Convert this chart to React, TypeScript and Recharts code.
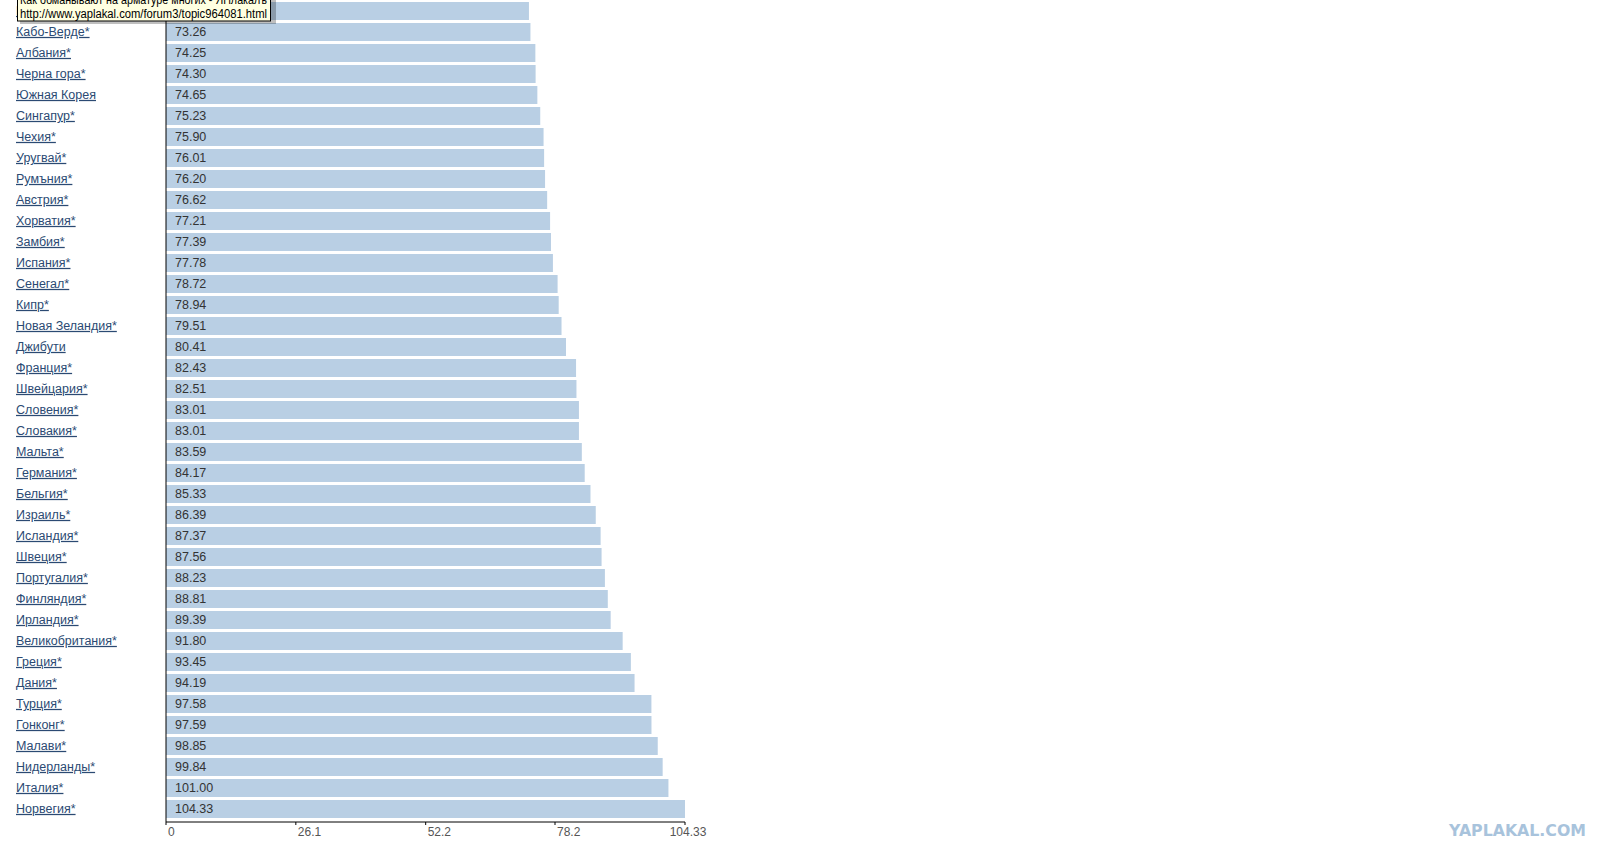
import { BarChart, Bar, XAxis, YAxis, LabelList } from 'recharts';

// row 0 is covered by the browser tooltip in the screenshot
const countries = [
  'Бразилия*', 'Кабо-Верде*', 'Албания*', 'Черна гора*', 'Южная Корея', 'Сингапур*',
  'Чехия*', 'Уругвай*', 'Румъния*', 'Австрия*', 'Хорватия*', 'Замбия*', 'Испания*',
  'Сенегал*', 'Кипр*', 'Новая Зеландия*', 'Джибути', 'Франция*', 'Швейцария*',
  'Словения*', 'Словакия*', 'Мальта*', 'Германия*', 'Бельгия*', 'Израиль*',
  'Исландия*', 'Швеция*', 'Португалия*', 'Финляндия*', 'Ирландия*',
  'Великобритания*', 'Греция*', 'Дания*', 'Турция*', 'Гонконг*', 'Малави*',
  'Нидерланды*', 'Италия*', 'Норвегия*',
];

const values = [
  72.96, 73.26, 74.25, 74.3, 74.65, 75.23,
  75.9, 76.01, 76.2, 76.62, 77.21, 77.39, 77.78,
  78.72, 78.94, 79.51, 80.41, 82.43, 82.51,
  83.01, 83.01, 83.59, 84.17, 85.33, 86.39,
  87.37, 87.56, 88.23, 88.81, 89.39,
  91.8, 93.45, 94.19, 97.58, 97.59, 98.85,
  99.84, 101.0, 104.33,
];

const xTicks = [0, 26.1, 52.2, 78.2, 104.33];
const xMax = 104.33;

const tooltipLines = [
  'Как обманывают на арматуре многих - ЯПлакалъ',
  'http://www.yaplakal.com/forum3/topic964081.html',
];

const data = countries.map((name, i) => ({ name, value: values[i] }));

const FONT = '"Liberation Sans", Arial, sans-serif';

function CountryTick({ y, payload }: any) {
  return (
    <text
      x={16}
      y={y}
      dy="0.35em"
      fill="#2b4a73"
      fontSize={12.5}
      fontFamily={FONT}
      textAnchor="start"
      style={{ textDecoration: 'underline' }}
    >
      {payload.value}
    </text>
  );
}

function ValueTick({ x, payload, index }: any) {
  const last = index === xTicks.length - 1;
  return (
    <text
      x={last ? x + 3 : x + 2}
      y={836}
      fill="#555"
      fontSize={12}
      fontFamily={FONT}
      textAnchor={last ? 'middle' : 'start'}
    >
      {payload.value}
    </text>
  );
}

function ValueLabel({ x, y, height, value }: any) {
  return (
    <text x={x + 9} y={y + height / 2} dy="0.35em" fill="#333" fontSize={12.5} fontFamily={FONT}>
      {Number(value).toFixed(2)}
    </text>
  );
}

export default function App() {
  return (
    <div style={{ position: 'absolute', left: 0, top: 0, width: 1612, height: 860, background: '#fff', overflow: 'hidden' }}>
      <BarChart
        width={1612}
        height={860}
        data={data}
        layout="vertical"
        margin={{ top: 0, right: 927, bottom: 0, left: 0 }}
      >
        <XAxis
          type="number"
          domain={[0, xMax]}
          ticks={xTicks}
          interval={0}
          height={38}
          axisLine={{ stroke: '#000' }}
          tickLine={{ stroke: '#000' }}
          tickSize={3}
          tick={<ValueTick />}
        />
        <YAxis
          type="category"
          dataKey="name"
          width={166}
          interval={0}
          padding={{ top: 0, bottom: 3 }}
          axisLine={{ stroke: '#000' }}
          tickLine={false}
          tick={<CountryTick />}
        />
        <Bar dataKey="value" fill="#b9cfe4" barSize={18} isAnimationActive={false}>
          <LabelList dataKey="value" content={<ValueLabel />} />
        </Bar>
      </BarChart>

      {/* browser hover tooltip caught in the screenshot */}
      <svg width={290} height={30} style={{ position: 'absolute', left: 0, top: 0 }}>
        <rect x={20} y={-6} width={256} height={30} fill="rgba(0,0,0,0.25)" />
        <rect x={17.5} y={-9} width={253} height={30} fill="#ffffe1" stroke="#000" />
        <text x={20} y={4} fontSize={12} fontFamily={FONT} fill="#000" textLength={247} lengthAdjust="spacingAndGlyphs">
          {tooltipLines[0]}
        </text>
        <text x={20} y={17.5} fontSize={12} fontFamily={FONT} fill="#000" textLength={247} lengthAdjust="spacingAndGlyphs">
          {tooltipLines[1]}
        </text>
      </svg>

      <svg width={170} height={30} style={{ position: 'absolute', left: 1440, top: 815 }}>
        <text
          x={9}
          y={21}
          fontSize={16}
          fontWeight="bold"
          fontFamily='"DejaVu Sans", sans-serif'
          fill="#a8c3dc"
          textLength={137}
          lengthAdjust="spacingAndGlyphs"
        >
          YAPLAKAL.COM
        </text>
      </svg>
    </div>
  );
}
